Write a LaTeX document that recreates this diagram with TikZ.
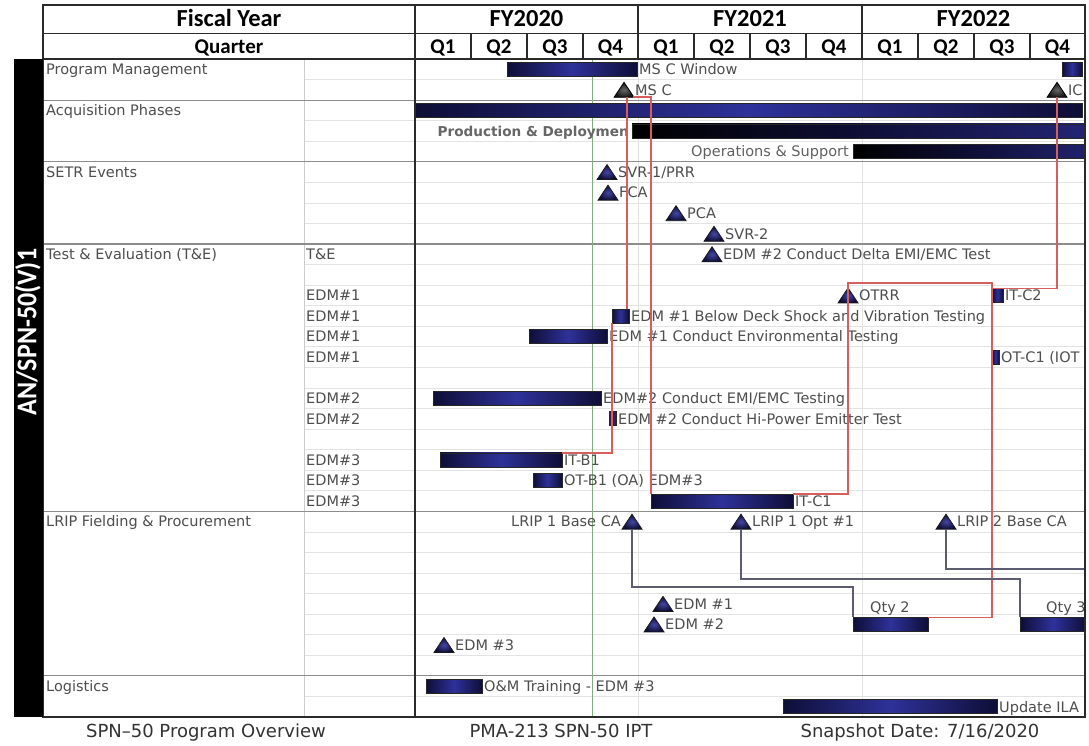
\documentclass[tikz,border=0pt]{standalone}
\usepackage{fontspec}
\setmainfont{DejaVu Sans}
\newfontfamily\hdfont{Carlito}
\usetikzlibrary{calc}
\definecolor{bdark}{HTML}{0E0E36}
\definecolor{bmid}{HTML}{2E3199}
\definecolor{labc}{HTML}{4E4E4E}
\definecolor{redc}{HTML}{D85E5E}
\definecolor{greyc}{HTML}{5C5C70}
\definecolor{gridc}{HTML}{E3E3E3}
\definecolor{sepc}{HTML}{8C8C8C}
\definecolor{framec}{HTML}{2A2A2A}
\definecolor{todayc}{HTML}{7FAF7F}
\definecolor{hipc}{HTML}{3A1848}
\newcommand\rc[1]{(59+20.5625*(#1+0.5))}
\newcommand\rt[1]{(59+20.5625*(#1))}
\tikzset{
 bar/.style={draw=black!85, line width=0.7pt, left color=bdark, right color=bdark, middle color=bmid, minimum height=14pt, inner sep=0pt, outer sep=0pt, anchor=west},
 lab/.style={text=labc, font=\fontsize{14.5}{16}\selectfont, inner sep=0pt, text height=10.6pt, text depth=0pt},
 side/.style={lab, anchor=west},
 hd/.style={font=\hdfont\bfseries\fontsize{24.5}{26}\selectfont, inner sep=0pt, text height=16pt, text depth=0pt},
 qh/.style={font=\hdfont\bfseries\fontsize{21}{23}\selectfont, inner sep=0pt, text height=13.5pt, text depth=0pt},
 foot/.style={text=black!80, font=\fontsize{18}{20}\selectfont, inner sep=0pt, text height=13pt, text depth=0pt},
 tri/.style={draw=black!90, line width=0.8pt, inner color=bmid!90!white, outer color=bdark},
 trik/.style={draw=black, line width=0.8pt, inner color=black!60, outer color=black!92},
 redline/.style={draw=redc, line width=1.9pt},
 greyline/.style={draw=greyc, line width=1.5pt},
}
\newcommand\gbar[5]{%
  \node[bar, minimum width={#3-#2}] (#1) at ({#2},{\rc{#4}}) {};
  \node[lab, anchor=west] (#1-l) at ({#3+2},{\rc{#4}}) {#5};
}
\newcommand\mst[4]{%
  \coordinate (#1) at ({#2},{\rc{#3}});
  \coordinate (#1-b) at ({#2},{\rc{#3}+7.5});
  \path[#4] ({#2},{\rc{#3}-7.5}) -- ({#2+10},{\rc{#3}+7.5}) -- ({#2-10},{\rc{#3}+7.5}) -- cycle;
}
\begin{document}
\begin{tikzpicture}[x=1pt,y=-1pt]
\useasboundingbox (0,0) rectangle (1089,746);
\fill[white] (0,0) rectangle (1089,746);
% grid
\foreach \i in {1,...,31} \draw[gridc, line width=0.8pt] (304,{\rt{\i}}) -- (1085,{\rt{\i}});
\draw[gridc, line width=1pt] (638,59) -- (638,717) (862,59) -- (862,717);
\draw[black!20, line width=1pt] (304,59) -- (304,717);
\foreach \i in {2,5,9,22,30} \draw[sepc, line width=1.2pt] (43,{\rt{\i}}) -- (1085,{\rt{\i}});
\draw[todayc, line width=0.9pt] (592,59) -- (592,717);
% left labels
\node[side] (pm) at (46,{\rc{0}}) {Program Management};
\node[side] (ap) at (46,{\rc{2}}) {Acquisition Phases};
\node[side] (se) at (46,{\rc{5}}) {SETR Events};
\node[side] (te) at (46,{\rc{9}}) {Test \& Evaluation (T\&E)};
\node[side] (lf) at (46,{\rc{22}}) {LRIP Fielding \& Procurement};
\node[side] (lg) at (46,{\rc{30}}) {Logistics};
\node[side] (s9) at (306,{\rc{9}}) {T\&E};
\foreach \r in {11,12,13,14} \node[side] (s\r) at (306,{\rc{\r}}) {EDM\#1};
\foreach \r in {16,17} \node[side] (s\r) at (306,{\rc{\r}}) {EDM\#2};
\foreach \r in {19,20,21} \node[side] (s\r) at (306,{\rc{\r}}) {EDM\#3};
\begin{scope}
\clip (43,59) rectangle (1084,717);
% bars
\gbar{mscw}{507}{637}{0}{MS C Window}
\node[bar, minimum width=20pt] (iocw) at (1062,{\rc{0}}) {};
\node[bar, minimum width=667pt, left color=bdark, right color=bdark, middle color=bmid] (acq) at (415,{\rc{2}}) {};
\node[bar, minimum width=453pt, left color=black, right color=bmid!75!black, middle color=bdark] (prod) at (632,{\rc{3}}) {};
\node[lab, anchor=east, text=black!60, font=\bfseries\fontsize{13.6}{16}\selectfont] (prod-l) at (629,{\rc{3}}) {Production \& Deploymen};
\node[bar, minimum width=232pt, left color=black, right color=bmid!70!black, middle color=bdark] (ops) at (853,{\rc{4}}) {};
\node[lab, anchor=east, text=black!62, fill=white, inner xsep=2pt] (ops-l) at (851,{\rc{4}}) {Operations \& Support};
\gbar{itc2}{992}{1003}{11}{IT-C2}
\gbar{shock}{612}{629}{12}{EDM \#1 Below Deck Shock and Vibration Testing}
\gbar{env}{529}{607}{13}{EDM \#1 Conduct Environmental Testing}
\gbar{otc1}{992}{999}{14}{OT-C1 (IOT}
\gbar{emi}{433}{601}{16}{EDM\#2 Conduct EMI/EMC Testing}
\node[bar, minimum width=7pt, left color=hipc, right color=hipc, middle color=hipc!70!bmid] (hip) at (609,{\rc{17}}) {};
\node[lab, anchor=west] (hip-l) at (618,{\rc{17}}) {EDM \#2 Conduct Hi-Power Emitter Test};
\gbar{itb1}{440}{562}{19}{IT-B1}
\gbar{otb1}{533}{562}{20}{OT-B1 (OA) EDM\#3}
\gbar{itc1}{651}{793}{21}{IT-C1}
\node[bar, minimum width=75pt] (qty2) at (853,{\rc{27}}) {};
\node[lab, anchor=west] (qty2-l) at (870,{\rc{26}+3}) {Qty 2};
\node[bar, minimum width=66pt] (qty3) at (1020,{\rc{27}}) {};
\node[lab, anchor=west] (qty3-l) at (1046,{\rc{26}+3}) {Qty 3};
\gbar{om}{426}{482}{30}{O\&M Training - EDM \#3}
\gbar{ila}{783}{997}{31}{Update ILA}
% milestones
\mst{msc}{624}{1}{trik}
\node[lab, anchor=west] (msc-l) at (635,{\rc{1}}) {MS C};
\mst{ioc}{1057}{1}{trik}
\node[lab, anchor=west] (ioc-l) at (1068,{\rc{1}}) {IC};
\mst{svr1}{607}{5}{tri}
\node[lab, anchor=west] (svr1-l) at (618,{\rc{5}}) {SVR-1/PRR};
\mst{fca}{608}{6}{tri}
\node[lab, anchor=west] (fca-l) at (619,{\rc{6}}) {FCA};
\mst{pca}{676}{7}{tri}
\node[lab, anchor=west] (pca-l) at (687,{\rc{7}}) {PCA};
\mst{svr2}{714}{8}{tri}
\node[lab, anchor=west] (svr2-l) at (725,{\rc{8}}) {SVR-2};
\mst{dlt}{712}{9}{tri}
\node[lab, anchor=west] (dlt-l) at (723,{\rc{9}}) {EDM \#2 Conduct Delta EMI/EMC Test};
\mst{otrr}{848}{11}{tri}
\node[lab, anchor=west] (otrr-l) at (859,{\rc{11}}) {OTRR};
\mst{lrip1}{632}{22}{tri}
\node[lab, anchor=east] (lrip1-l) at (621,{\rc{22}}) {LRIP 1 Base CA};
\mst{lrip1o}{741}{22}{tri}
\node[lab, anchor=west] (lrip1o-l) at (752,{\rc{22}}) {LRIP 1 Opt \#1};
\mst{lrip2}{946}{22}{tri}
\node[lab, anchor=west] (lrip2-l) at (957,{\rc{22}}) {LRIP 2 Base CA};
\mst{edma}{663}{26}{tri}
\node[lab, anchor=west] (edma-l) at (674,{\rc{26}}) {EDM \#1};
\mst{edmb}{654}{27}{tri}
\node[lab, anchor=west] (edmb-l) at (665,{\rc{27}}) {EDM \#2};
\mst{edmc}{444}{28}{tri}
\node[lab, anchor=west] (edmc-l) at (455,{\rc{28}}) {EDM \#3};
% red connectors
\coordinate (otrrtop) at ($(otrr)+(0,-12.5)$);
\draw[redline] (itb1.north east) -| (shock.south west);
\draw[redline] ([xshift=-2pt]shock.north east) -- ([xshift=-2pt]shock.north east |- msc-b);
\draw[redline] ([xshift=9pt]msc-b) -| (itc1.north west);
\draw[redline] (itc1.north east) -| (otrrtop) -- (otrrtop -| itc2.west) |- (qty2.north east);
\draw[redline] (itc2.north west) -| (ioc-b);
% grey connectors
\coordinate (lrip2end) at (1085,569);
\draw[greyline] (lrip1-b) -- ++(0,58) -| (qty2.north west);
\draw[greyline] (lrip1o-b) -- ++(0,50) -| (qty3.north west);
\draw[greyline] (lrip2-b) |- (lrip2end);
\end{scope}
% header and frame
\draw[framec, line width=1.5pt] (43,33.5) -- (1085,33.5);
\foreach \x in {471,527,583,694,750,806,918,974,1030} \draw[framec, line width=1.2pt] (\x,33.5) -- (\x,59);
\foreach \x in {638,862} \draw[framec, line width=1.5pt] (\x,5) -- (\x,59);
\draw[framec, line width=1.8pt] (415,5) -- (415,717);
\draw[framec, line width=2pt] (43,59) -- (1085,59);
\draw[framec, line width=2pt] (43,5) rectangle (1085,717);
\fill[black] (14,59) rectangle (43,717);
\node[hd] (fy) at (229,19) {Fiscal Year};
\node[qh] (qtr) at (229,46.5) {Quarter};
\node[hd] (fy20) at (526.5,19) {FY2020};
\node[hd] (fy21) at (750,19) {FY2021};
\node[hd] (fy22) at (973.5,19) {FY2022};
\foreach \x/\q [count=\k] in {443/Q1,499/Q2,555/Q3,610.5/Q4,666/Q1,722/Q2,778/Q3,834/Q4,890/Q1,946/Q2,1002/Q3,1057.5/Q4}
  \node[qh] (q\k) at (\x,46.5) {\q};
\node[rotate=90, text=white, font=\hdfont\bfseries\fontsize{26}{28}\selectfont, inner sep=0pt] (title) at (28,332) {\scalebox{1}[1.1]{AN/SPN-50(V)1}};
% footer
\node[foot] (f1) at (206,731) {SPN–50 Program Overview};
\node[foot] (f2) at (561,731) {PMA-213 SPN-50 IPT};
\node[foot] (f3) at (920,731) {Snapshot Date: 7/16/2020};
\end{tikzpicture}
\end{document}
